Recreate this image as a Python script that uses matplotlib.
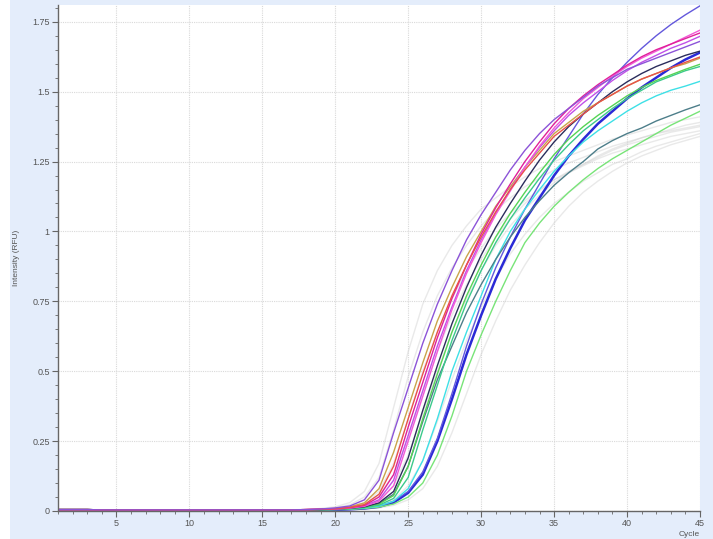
"""
qPCR amplification curves: intensity (RFU) vs cycle
"""

import matplotlib.pyplot as plt
from matplotlib.patches import Rectangle

cycles = list(range(1, 46))

# cycles 1-17, flat baseline shared by the wells
early = [0.005, 0.005, 0.005, 0.004, 0.004, 0.004, 0.004, 0.004, 0.004,
         0.004, 0.004, 0.004, 0.004, 0.004, 0.004, 0.004, 0.004]
# the two blue wells sit a little lower before take-off
early_low = [0.002, 0.002, 0.002, 0.002, 0.002, 0.002, 0.002, 0.002, 0.002,
             0.002, 0.002, 0.002, 0.002, 0.002, 0.002, 0.002, 0.002]

# cycles 18-45 for each well
purple = [0.005, 0.007, 0.011, 0.018, 0.04, 0.11, 0.28, 0.44, 0.60, 0.74, 0.86, 0.97, 1.06, 1.14,
          1.22, 1.29, 1.35, 1.40, 1.44, 1.48, 1.52, 1.55, 1.58, 1.60, 1.62, 1.64, 1.66, 1.68]
gold = [0.005, 0.006, 0.009, 0.015, 0.029, 0.08, 0.21, 0.37, 0.53, 0.68, 0.80, 0.91, 1.00, 1.09,
        1.16, 1.23, 1.29, 1.35, 1.39, 1.43, 1.46, 1.49, 1.52, 1.545, 1.565, 1.585, 1.60, 1.62]
red = [0.005, 0.006, 0.008, 0.013, 0.023, 0.06, 0.16, 0.33, 0.49, 0.64, 0.77, 0.88, 0.98, 1.07,
       1.15, 1.22, 1.28, 1.34, 1.38, 1.42, 1.46, 1.49, 1.52, 1.545, 1.565, 1.585, 1.605, 1.624]
magenta = [0.005, 0.006, 0.008, 0.012, 0.020, 0.05, 0.13, 0.30, 0.46, 0.62, 0.76, 0.88, 0.99, 1.085,
           1.17, 1.25, 1.32, 1.385, 1.44, 1.485, 1.525, 1.56, 1.595, 1.625, 1.65, 1.67, 1.69, 1.71]
pink = [0.005, 0.006, 0.007, 0.011, 0.017, 0.035, 0.09, 0.25, 0.41, 0.57, 0.72, 0.85, 0.96, 1.06,
        1.145, 1.23, 1.305, 1.37, 1.425, 1.475, 1.515, 1.555, 1.59, 1.62, 1.645, 1.67, 1.695, 1.72]
orchid = [0.005, 0.006, 0.007, 0.011, 0.018, 0.04, 0.11, 0.27, 0.43, 0.59, 0.73, 0.86, 0.97, 1.065,
          1.15, 1.23, 1.30, 1.36, 1.415, 1.46, 1.50, 1.54, 1.575, 1.605, 1.63, 1.655, 1.675, 1.698]
navy = [0.004, 0.005, 0.007, 0.010, 0.015, 0.029, 0.07, 0.19, 0.36, 0.52, 0.67, 0.80, 0.915, 1.015,
        1.10, 1.18, 1.255, 1.32, 1.375, 1.42, 1.46, 1.50, 1.535, 1.565, 1.59, 1.61, 1.63, 1.645]
green = [0.004, 0.005, 0.006, 0.009, 0.014, 0.025, 0.055, 0.16, 0.33, 0.49, 0.64, 0.77, 0.88, 0.98,
         1.065, 1.14, 1.21, 1.275, 1.33, 1.375, 1.415, 1.45, 1.485, 1.515, 1.54, 1.56, 1.58, 1.598]
seagreen = [0.004, 0.005, 0.006, 0.008, 0.012, 0.021, 0.045, 0.12, 0.29, 0.45, 0.61, 0.745, 0.86, 0.96,
            1.045, 1.12, 1.19, 1.255, 1.31, 1.36, 1.40, 1.44, 1.475, 1.505, 1.535, 1.555, 1.575, 1.59]
teal = [0.004, 0.005, 0.006, 0.009, 0.014, 0.026, 0.06, 0.16, 0.32, 0.47, 0.59, 0.71, 0.81, 0.90,
        0.98, 1.05, 1.11, 1.165, 1.21, 1.25, 1.295, 1.325, 1.35, 1.37, 1.395, 1.415, 1.435, 1.453]
cyan = [0.004, 0.005, 0.006, 0.008, 0.011, 0.018, 0.035, 0.08, 0.18, 0.33, 0.50, 0.64, 0.77, 0.90,
        1.00, 1.08, 1.15, 1.215, 1.27, 1.32, 1.36, 1.395, 1.43, 1.46, 1.485, 1.505, 1.52, 1.537]
blue = [0.003, 0.004, 0.005, 0.007, 0.010, 0.017, 0.035, 0.07, 0.14, 0.26, 0.42, 0.59, 0.74, 0.87,
        0.98, 1.08, 1.17, 1.26, 1.34, 1.42, 1.49, 1.55, 1.605, 1.655, 1.70, 1.74, 1.775, 1.807]
darkblue = [0.002, 0.003, 0.004, 0.006, 0.009, 0.015, 0.03, 0.065, 0.13, 0.25, 0.40, 0.56, 0.70, 0.83,
            0.94, 1.04, 1.12, 1.20, 1.27, 1.33, 1.385, 1.43, 1.475, 1.515, 1.55, 1.585, 1.615, 1.64]
lightgreen = [0.003, 0.004, 0.005, 0.006, 0.009, 0.014, 0.025, 0.05, 0.10, 0.20, 0.34, 0.50, 0.63, 0.75,
              0.86, 0.96, 1.03, 1.09, 1.14, 1.185, 1.225, 1.26, 1.29, 1.32, 1.35, 1.38, 1.405, 1.43]

# faint grey wells
grey_a = [0.006, 0.009, 0.015, 0.03, 0.07, 0.17, 0.37, 0.57, 0.74, 0.86, 0.95, 1.02, 1.08, 1.12,
          1.16, 1.195, 1.225, 1.25, 1.27, 1.29, 1.31, 1.33, 1.345, 1.36, 1.375, 1.39, 1.40, 1.41]
grey_b = [0.005, 0.007, 0.012, 0.022, 0.05, 0.12, 0.29, 0.48, 0.64, 0.77, 0.87, 0.95, 1.02, 1.075,
          1.12, 1.16, 1.19, 1.22, 1.245, 1.265, 1.285, 1.305, 1.32, 1.335, 1.35, 1.36, 1.37, 1.38]
grey_c = [0.004, 0.006, 0.009, 0.015, 0.03, 0.07, 0.17, 0.33, 0.50, 0.64, 0.76, 0.86, 0.94, 1.01,
          1.065, 1.11, 1.15, 1.185, 1.21, 1.235, 1.26, 1.28, 1.295, 1.31, 1.325, 1.34, 1.35, 1.36]
grey_d = [0.004, 0.005, 0.008, 0.013, 0.025, 0.055, 0.13, 0.26, 0.42, 0.57, 0.70, 0.81, 0.90, 0.98,
          1.045, 1.10, 1.145, 1.185, 1.215, 1.24, 1.265, 1.29, 1.31, 1.325, 1.34, 1.355, 1.365, 1.375]
grey_e = [0.004, 0.005, 0.007, 0.011, 0.02, 0.04, 0.09, 0.20, 0.35, 0.50, 0.64, 0.76, 0.86, 0.95,
          1.02, 1.08, 1.13, 1.175, 1.21, 1.24, 1.27, 1.295, 1.315, 1.335, 1.35, 1.365, 1.38, 1.39]
grey_f = [0.003, 0.004, 0.005, 0.007, 0.011, 0.02, 0.04, 0.09, 0.18, 0.32, 0.47, 0.61, 0.73, 0.83,
          0.92, 0.99, 1.05, 1.10, 1.14, 1.18, 1.21, 1.24, 1.26, 1.285, 1.305, 1.32, 1.335, 1.35]
grey_g = [0.003, 0.003, 0.004, 0.005, 0.007, 0.011, 0.02, 0.04, 0.08, 0.16, 0.28, 0.42, 0.56, 0.68,
          0.79, 0.88, 0.96, 1.03, 1.09, 1.14, 1.18, 1.215, 1.245, 1.27, 1.29, 1.31, 1.325, 1.34]

greys = [grey_a, grey_b, grey_c, grey_d, grey_e, grey_f, grey_g]

# (values, baseline, colour, width) - blue wells first so the others lie on top at the baseline
wells = [
    (darkblue, early_low, "#2a2ad6", 1.8),
    (blue, early_low, "#6358dc", 1.0),
    (lightgreen, early, "#78e478", 1.0),
    (cyan, early, "#3ee0e6", 1.0),
    (teal, early, "#4d7e8a", 1.0),
    (seagreen, early, "#3cc98c", 1.0),
    (green, early, "#55d455", 1.0),
    (navy, early, "#2b2d5c", 1.0),
    (gold, early, "#c9a44a", 1.0),
    (orchid, early, "#c050e8", 1.0),
    (pink, early, "#f25ad8", 1.0),
    (magenta, early, "#e0209a", 1.0),
    (red, early, "#e8524a", 1.0),
    (purple, early, "#8c54d8", 1.0),
]

yticks = [0, 0.25, 0.5, 0.75, 1, 1.25, 1.5, 1.75]
ytick_labels = ["0", "0.25", "0.5", "0.75", "1", "1.25", "1.5", "1.75"]
xticks = [5, 10, 15, 20, 25, 30, 35, 40, 45]

plt.rcParams['font.family'] = ['Liberation Sans', 'DejaVu Sans']

fig = plt.figure(figsize=(7.13, 5.39), dpi=100, facecolor="#e4edfb")
fig.patches.append(Rectangle((0, 0), 10 / 713, 1, transform=fig.transFigure,
                             facecolor="white", edgecolor="none", zorder=-1))
ax = fig.add_axes([58 / 713, 28 / 539, 642 / 713, 506 / 539])
ax.set_facecolor("white")

for g in greys:
    ax.plot(cycles, early + g, color="#cfcfcf", lw=1.0, alpha=0.45)
for vals, base, col, lw in wells:
    ax.plot(cycles, base + vals, color=col, lw=lw)

ax.set_xlim(1, 45)
ax.set_ylim(0, 1.81)
ax.set_xticks(xticks)
ax.set_xticks(cycles, minor=True)
ax.set_yticks(yticks)
ax.set_yticklabels(ytick_labels)
ax.set_yticks([i * 0.05 for i in range(37)], minor=True)
ax.grid(True, which="major", color="#d9d9d9", lw=0.8, ls=(0, (1, 1)))
ax.set_axisbelow(True)

for s in ["top", "right"]:
    ax.spines[s].set_visible(False)
for s in ["left", "bottom"]:
    ax.spines[s].set_color("#666666")
    ax.spines[s].set_linewidth(1.0)
ax.tick_params(which="major", length=4, color="#666666", labelsize=6.5, labelcolor="#555555", pad=2)
ax.tick_params(which="minor", length=2.5, color="#666666")

ax.set_ylabel("Intensity (RFU)", fontsize=6, color="#555555", labelpad=9)
ax.text(1.0, -0.04, "Cycle", transform=ax.transAxes, ha="right", va="top",
        fontsize=6, color="#555555")

plt.savefig("out.png", dpi=100, facecolor=fig.get_facecolor())
